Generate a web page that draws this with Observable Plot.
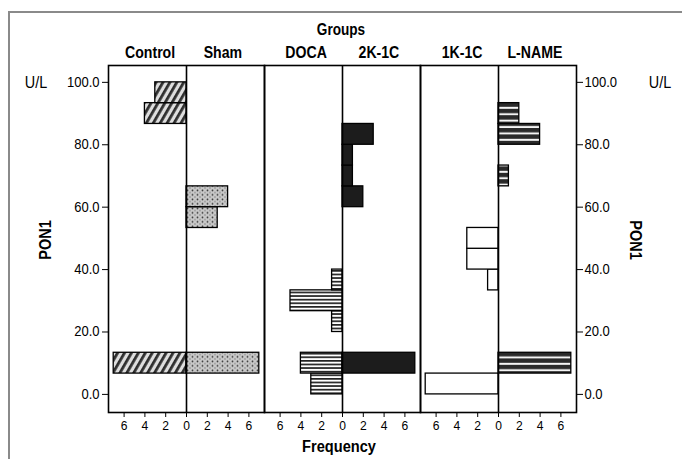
<!DOCTYPE html>
<html><head><meta charset="utf-8">
<script src="https://cdn.jsdelivr.net/npm/d3@7"></script>
<script src="https://cdn.jsdelivr.net/npm/@observablehq/plot@0.6"></script>
<style>
html,body{margin:0;padding:0;background:#fff;}
#wrap{position:relative;width:682px;height:459px;overflow:hidden;}
#border{position:absolute;left:8px;top:11px;width:700px;height:500px;border-top:2px solid #8a8a8a;border-left:2px solid #8a8a8a;}
#chart{position:absolute;left:0;top:0;}
</style></head><body>
<div id="wrap"><div id="border"></div><div id="chart"></div></div>
<script>
// ---- data ----
const groups = ["Control", "Sham", "DOCA", "2K-1C", "1K-1C", "L-NAME"];
const pairs = ["Control/Sham", "DOCA/2K-1C", "1K-1C/L-NAME"];
const groupPair = ["Control/Sham", "Control/Sham", "DOCA/2K-1C", "DOCA/2K-1C", "1K-1C/L-NAME", "1K-1C/L-NAME"];
const groupSide = [-1, 1, -1, 1, -1, 1];
const binLower = [0, 6.67, 13.33, 20, 26.67, 33.33, 40, 46.67, 53.33, 60, 66.67, 73.33, 80, 86.67, 93.33];
const binWidth = 6.67;
const controlCounts = [0, 7, 0, 0, 0, 0, 0, 0, 0, 0, 0, 0, 0, 4, 3];
const shamCounts    = [0, 7, 0, 0, 0, 0, 0, 0, 3, 4, 0, 0, 0, 0, 0];
const docaCounts    = [3, 4, 0, 1, 5, 1, 0, 0, 0, 0, 0, 0, 0, 0, 0];
const k2c1Counts    = [0, 7, 0, 0, 0, 0, 0, 0, 0, 2, 1, 1, 3, 0, 0];
const k1c1Counts    = [7, 0, 0, 0, 0, 1, 3, 3, 0, 0, 0, 0, 0, 0, 0];
const lnameCounts   = [0, 7, 0, 0, 0, 0, 0, 0, 0, 0, 1, 0, 4, 2, 0];
const xTicks = [-6, -4, -2, 0, 2, 4, 6];
const yTicks = [0, 20, 40, 60, 80, 100];
const fills = ["url(#pCtl)", "url(#pSham)", "url(#pDoca)", "#1c1c1c", "#ffffff", "url(#pLname)"];

const allCounts = [controlCounts, shamCounts, docaCounts, k2c1Counts, k1c1Counts, lnameCounts];
const rows = [];
groups.forEach((g, gi) => {
  allCounts[gi].forEach((c, bi) => {
    if (c > 0) rows.push({group: g, pair: groupPair[gi], x1: 0, x2: groupSide[gi] * c, y1: binLower[bi], y2: binLower[bi] + binWidth});
  });
});
const labels = groups.map((g, gi) => ({group: g, pair: groupPair[gi], lx: groupSide[gi] * 3.5}));

const FONT = "'Liberation Sans', Arial, sans-serif";

const chart = Plot.plot({
  width: 682, height: 459,
  marginLeft: 107, marginRight: 105, marginTop: 65, marginBottom: 47,
  style: {fontFamily: FONT, fontSize: "14px", color: "#000", background: "transparent", overflow: "visible"},
  fx: {domain: pairs, padding: 0, axis: null, label: null},
  x: {domain: [-7.5, 7.5], label: null},
  y: {domain: [-5.8, 105.4], label: null},
  color: {domain: groups, range: fills},
  marks: [
    Plot.rect(rows, {fx: "pair", x1: "x1", x2: "x2", y1: "y1", y2: "y2", fill: "group", stroke: "#000", strokeWidth: 1.3}),
    Plot.ruleX([0], {stroke: "#000", strokeWidth: 1.6}),
    Plot.frame({stroke: "#000", strokeWidth: 1.6}),
    Plot.axisX({ticks: xTicks, tickFormat: d => Math.abs(d), tickSize: 5, tickPadding: 3, label: null, fontSize: 13}),
    Plot.axisY({anchor: "left", ticks: yTicks, tickFormat: d => d.toFixed(1), tickSize: 6, tickPadding: 3, label: null}),
    Plot.axisY({anchor: "right", ticks: yTicks, tickFormat: d => d.toFixed(1), tickSize: 6, tickPadding: 2, label: null}),
    Plot.text(labels, {fx: "pair", x: "lx", text: "group", frameAnchor: "top", lineAnchor: "middle", dy: -13, fontWeight: "bold", fontSize: 17})
  ]
});
document.getElementById("chart").appendChild(chart);

const svg = d3.select(chart);
// condensed look: squeeze text horizontally around its anchor
svg.selectAll('g[aria-label="text"] text').attr("transform", function () {
  return (this.getAttribute("transform") || "") + " scale(0.83,1)";
});
svg.selectAll('g[aria-label="y-axis tick label"] text, g[aria-label="x-axis tick label"] text').attr("transform", function () {
  return (this.getAttribute("transform") || "") + " scale(0.93,1)";
});

const defs = svg.insert("defs", ":first-child");
// Control: diagonal hatch
const p1 = defs.append("pattern").attr("id", "pCtl").attr("patternUnits", "userSpaceOnUse")
  .attr("width", 6).attr("height", 6).attr("patternTransform", "rotate(30)");
p1.append("rect").attr("width", 6).attr("height", 6).attr("fill", "#dedede");
p1.append("rect").attr("width", 2.8).attr("height", 6).attr("fill", "#2e2e2e");
// Sham: dotted gray
const p2 = defs.append("pattern").attr("id", "pSham").attr("patternUnits", "userSpaceOnUse")
  .attr("width", 5).attr("height", 4.5);
p2.append("rect").attr("width", 5).attr("height", 4.5).attr("fill", "#c8c8c8");
p2.append("circle").attr("cx", 1.5).attr("cy", 1.3).attr("r", 0.9).attr("fill", "#333");
p2.append("circle").attr("cx", 4).attr("cy", 3.5).attr("r", 0.6).attr("fill", "#555");
// DOCA: thin horizontal stripes
const p3 = defs.append("pattern").attr("id", "pDoca").attr("patternUnits", "userSpaceOnUse")
  .attr("width", 6).attr("height", 3.6);
p3.append("rect").attr("width", 6).attr("height", 3.6).attr("fill", "#fff");
p3.append("rect").attr("width", 6).attr("height", 1.7).attr("fill", "#222");
// L-NAME: thick horizontal stripes
const p4 = defs.append("pattern").attr("id", "pLname").attr("patternUnits", "userSpaceOnUse")
  .attr("width", 6).attr("height", 6.4);
p4.append("rect").attr("width", 6).attr("height", 6.4).attr("fill", "#f4f4f4");
p4.append("rect").attr("width", 6).attr("height", 4.4).attr("fill", "#2a2a2a");

// outer annotations
const ann = svg.append("g").attr("font-family", FONT).attr("fill", "#000");
ann.append("text").attr("transform", "translate(341,29) scale(0.85,1)").attr("text-anchor", "middle").attr("dy", "0.35em")
  .attr("font-weight", "bold").attr("font-size", 16).text("Groups");
ann.append("text").attr("transform", "translate(339,446) scale(0.86,1)").attr("text-anchor", "middle").attr("dy", "0.35em")
  .attr("font-weight", "bold").attr("font-size", 17).text("Frequency");
ann.append("text").attr("transform", "translate(36,82) scale(0.9,1)").attr("text-anchor", "middle").attr("dy", "0.35em")
  .attr("font-size", 16).text("U/L");
ann.append("text").attr("transform", "translate(660,82) scale(0.9,1)").attr("text-anchor", "middle").attr("dy", "0.35em")
  .attr("font-size", 16).text("U/L");
ann.append("text").attr("transform", "translate(45,240) rotate(-90) scale(0.85,1)").attr("text-anchor", "middle").attr("dy", "0.35em")
  .attr("font-weight", "bold").attr("font-size", 17).text("PON1");
ann.append("text").attr("transform", "translate(636,240) rotate(90) scale(0.85,1)").attr("text-anchor", "middle").attr("dy", "0.35em")
  .attr("font-weight", "bold").attr("font-size", 17).text("PON1");
</script>
</body></html>
